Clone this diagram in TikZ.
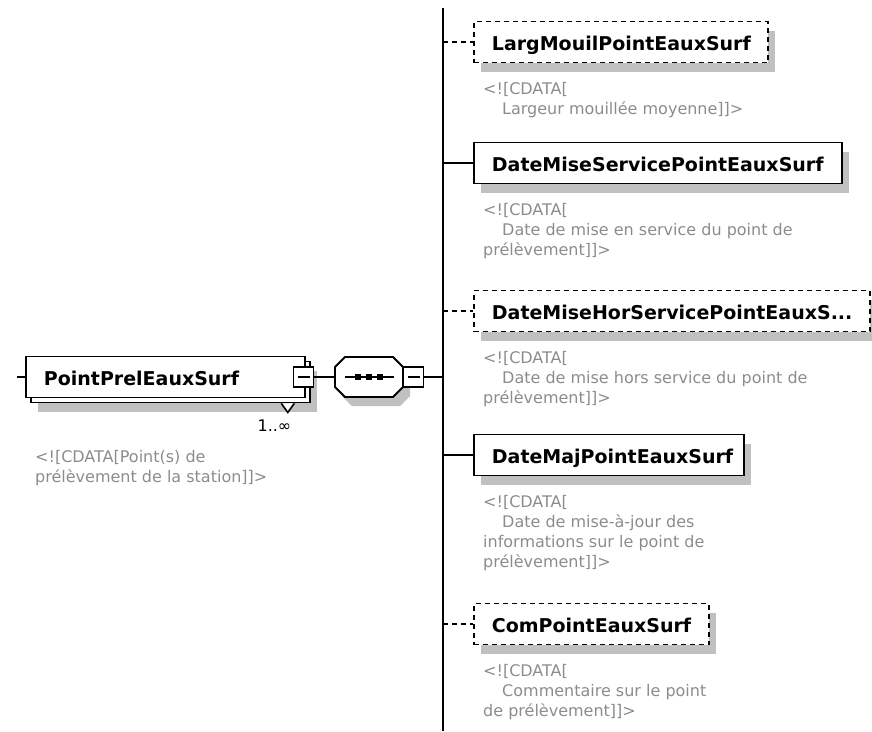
\documentclass[tikz,border=0pt]{standalone}
\usepackage{fontspec}
\setmainfont{DejaVu Sans}
\usetikzlibrary{positioning,shadows}

\definecolor{notegray}{RGB}{140,140,140}
\definecolor{shadegray}{RGB}{192,192,192}
\newcommand{\cdindent}{\hspace*{19pt}}

\tikzset{
    elem/.style={draw, line width=1.8pt, fill=white, anchor=west, align=left,
        minimum height=41pt, inner xsep=18pt, inner ysep=0pt,
        text height=17pt, text depth=1pt,
        font=\fontsize{19}{23}\selectfont\bfseries},
    optelem/.style={elem, dash pattern=on 5pt off 4pt},
    shade/.style={general shadow={fill=shadegray, shadow xshift=7pt, shadow yshift=-9pt}},
    collapse/.style={draw, line width=1.8pt, fill=white, minimum size=20pt, inner sep=0pt,
        path picture={\draw[line width=1.6pt] ([xshift=4pt]path picture bounding box.west)
            -- ([xshift=-4pt]path picture bounding box.east);}},
    note/.style={anchor=north west, align=left, inner sep=0pt, text=notegray,
        font=\fontsize{16}{20}\selectfont},
}

\begin{document}
\begin{tikzpicture}[x=1pt, y=-1pt]
    \useasboundingbox (0,0) rectangle (872,731);

    \coordinate (pin) at (17,377);
    \coordinate (bustop) at (443,8);
    \coordinate (busbot) at (443,731);

    % repeated element on the left
    \node[elem, shade, minimum width=279pt] (pointback) at (30,382) {};
    \node[elem, text width=243pt] (point) at (25,377) {PointPrelEauxSurf};
    \draw[line width=1.6pt, fill=white] ([xshift=-29.5pt]pointback.south east)
        -- ++(6.5,9) -- ++(6.5,-9);
    \node[collapse] (pcoll) at (303.5,377) {};
    \node[anchor=east, font=\fontsize{16}{20}\selectfont] (mult)
        at ([shift={(-16,22)}]pointback.south east) {1..∞};
    \node[note, below=52pt of point.south west, anchor=north west, xshift=10pt] (pointnote)
        {<![CDATA[Point(s) de\\prélèvement de la station]]>};

    % sequence
    \node[minimum width=68pt, minimum height=40pt, inner sep=0pt, outer sep=0pt] (seq) at (369,377) {};
    \draw[line width=1.8pt, fill=white, shade]
        ([xshift=10pt]seq.north west) -- ([xshift=-10pt]seq.north east)
        -- ([yshift=-10pt]seq.north east) -- ([yshift=10pt]seq.south east)
        -- ([xshift=-10pt]seq.south east) -- ([xshift=10pt]seq.south west)
        -- ([yshift=10pt]seq.south west) -- ([yshift=-10pt]seq.north west) -- cycle;
    \draw[line width=1.6pt] ([xshift=10pt]seq.west) -- ([xshift=-9pt]seq.east);
    \foreach \dx in {-11,0,11} {
        \fill ([xshift=\dx pt]seq.center) +(-3,-3) rectangle +(3,3);
    }
    \node[collapse] (scoll) at (413.5,377) {};

    % children
    \node[optelem, shade, text width=258pt] (larg) at (473,42) {LargMouilPointEauxSurf};
    \node[elem, shade, text width=332pt] (datemise) at (473,163) {DateMiseServicePointEauxSurf};
    \node[optelem, shade, text width=360pt] (datehors) at (473,311) {DateMiseHorServicePointEauxS...};
    \node[elem, shade, text width=234pt] (datemaj) at (473,455) {DateMajPointEauxSurf};
    \node[optelem, shade, text width=199pt] (com) at (473,624) {ComPointEauxSurf};

    \node[note, below=19pt of larg.south west, anchor=north west, xshift=10pt] (largnote)
        {<![CDATA[\\\cdindent Largeur mouillée moyenne]]>};
    \node[note, below=19pt of datemise.south west, anchor=north west, xshift=10pt] (datemisenote)
        {<![CDATA[\\\cdindent Date de mise en service du point de\\prélèvement]]>};
    \node[note, below=19pt of datehors.south west, anchor=north west, xshift=10pt] (datehorsnote)
        {<![CDATA[\\\cdindent Date de mise hors service du point de\\prélèvement]]>};
    \node[note, below=19pt of datemaj.south west, anchor=north west, xshift=10pt] (datemajnote)
        {<![CDATA[\\\cdindent Date de mise-à-jour des\\informations sur le point de\\prélèvement]]>};
    \node[note, below=19pt of com.south west, anchor=north west, xshift=10pt] (comnote)
        {<![CDATA[\\\cdindent Commentaire sur le point\\de prélèvement]]>};

    % connectors
    \draw[line width=2pt] (bustop) -- (busbot);
    \begin{scope}[line width=1.8pt]
        \draw (pin) -- (point.west);
        \draw (pcoll.east) -- (seq.west);
        \draw (scoll.east) -- (scoll.east -| bustop);
        \foreach \e in {datemise, datemaj} {
            \draw (bustop |- \e.west) -- (\e.west);
        }
        \foreach \e in {larg, datehors, com} {
            \draw[dash pattern=on 5pt off 4pt] (bustop |- \e.west) -- (\e.west);
        }
    \end{scope}
\end{tikzpicture}
\end{document}
